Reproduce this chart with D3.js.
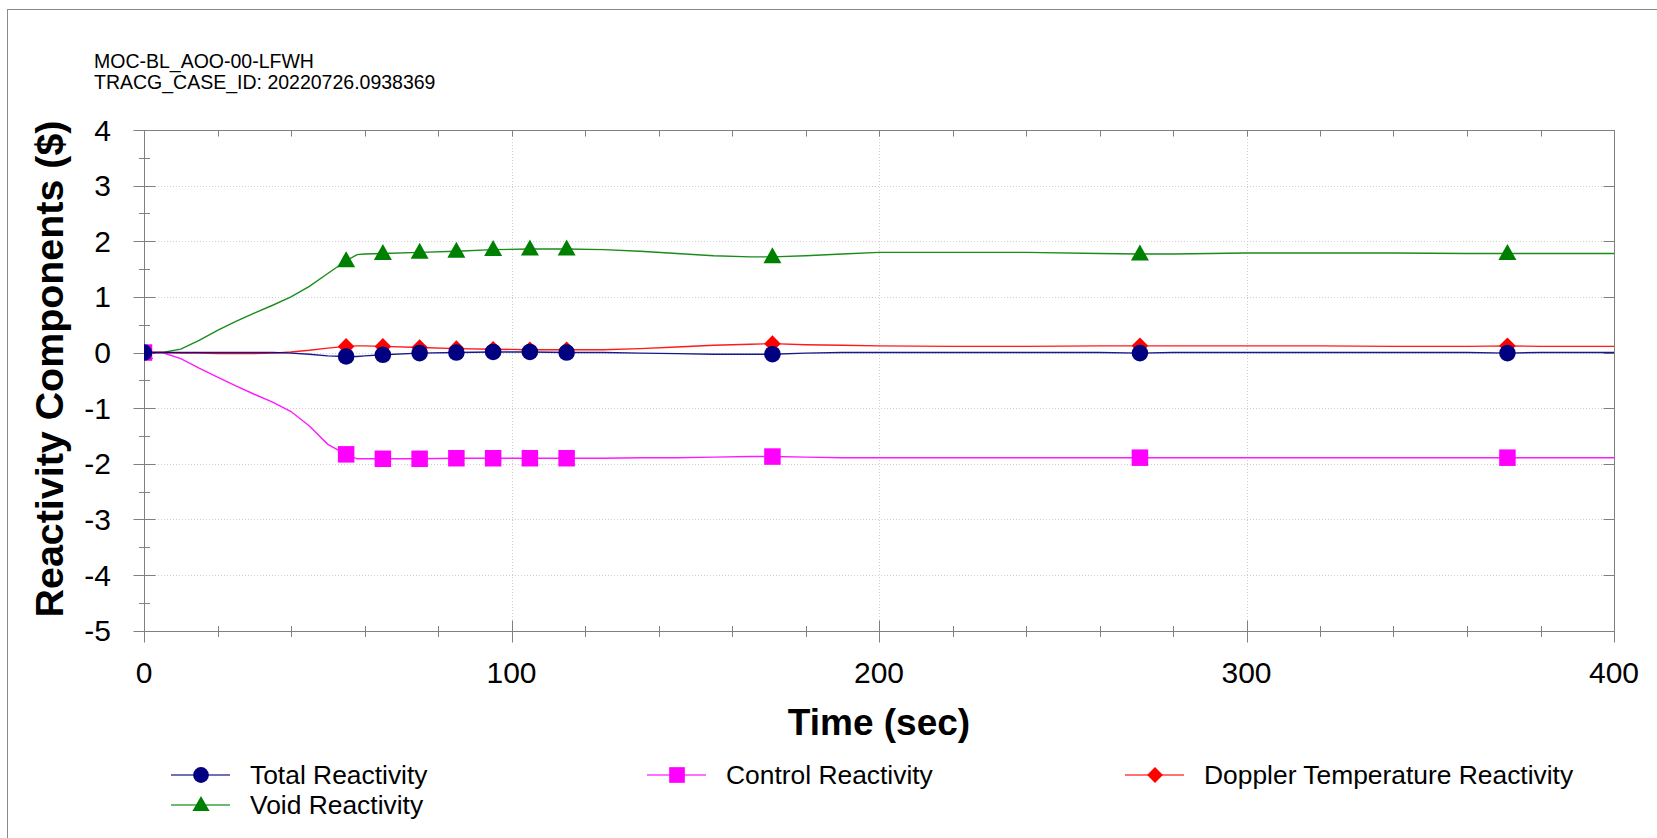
<!DOCTYPE html>
<html>
<head>
<meta charset="utf-8">
<script src="https://cdn.jsdelivr.net/npm/d3@7"></script>
<style>
  html, body { margin: 0; padding: 0; background: #fff; }
  svg { display: block; font-family: "Liberation Sans", Arial, sans-serif; }
</style>
</head>
<body>
<svg id="chart" width="1657" height="838"></svg>
<script>
// Reactivity components over the transient (sampled times, seconds)
const timeSec = [0, 5, 10, 15, 20, 25, 30, 35, 40, 45, 50, 55, 58, 60, 65, 75, 85, 95, 105, 115,
  125, 135, 145, 155, 165, 171, 180, 190, 200, 220, 240, 260, 271, 280, 300, 320, 340, 360, 371, 380, 400];

const totalReactivity = [0, 0, 0, 0, 0, 0, 0, 0, -0.01, -0.03, -0.06, -0.07, -0.07, -0.06, -0.04, -0.01, 0.0, 0.01, 0.01, 0.0,
  0.0, -0.01, -0.02, -0.03, -0.03, -0.03, -0.01, 0.0, 0.0, 0.0, 0.0, 0.0, -0.01, 0.0, 0.0, 0.0, 0.0, 0.0, -0.01, 0.0, 0.0];

const controlReactivity = [0, 0, -0.11, -0.28, -0.44, -0.60, -0.75, -0.89, -1.06, -1.32, -1.65, -1.83, -1.91, -1.91, -1.91, -1.91, -1.90, -1.90, -1.90, -1.90,
  -1.90, -1.89, -1.89, -1.88, -1.87, -1.87, -1.88, -1.89, -1.89, -1.89, -1.89, -1.89, -1.89, -1.89, -1.89, -1.89, -1.89, -1.89, -1.89, -1.89, -1.89];

const dopplerReactivity = [0, 0, -0.01, -0.01, -0.02, -0.02, -0.02, -0.01, 0.01, 0.04, 0.08, 0.11, 0.12, 0.12, 0.11, 0.09, 0.07, 0.06, 0.05, 0.05,
  0.05, 0.07, 0.10, 0.13, 0.15, 0.16, 0.14, 0.13, 0.12, 0.11, 0.11, 0.12, 0.12, 0.12, 0.12, 0.12, 0.11, 0.11, 0.12, 0.11, 0.11];

const voidReactivity = [0, 0, 0.06, 0.22, 0.40, 0.56, 0.71, 0.85, 1.00, 1.19, 1.42, 1.65, 1.76, 1.77, 1.78, 1.80, 1.82, 1.85, 1.86, 1.86,
  1.85, 1.82, 1.78, 1.74, 1.72, 1.72, 1.74, 1.77, 1.80, 1.80, 1.80, 1.78, 1.77, 1.77, 1.79, 1.79, 1.79, 1.78, 1.78, 1.78, 1.78];

// Times at which symbols are placed on each curve
const markerTimes = [0, 55, 65, 75, 85, 95, 105, 115, 171, 271, 371];

const xTickValues = [0, 100, 200, 300, 400];
const yTickValues = [4, 3, 2, 1, 0, -1, -2, -3, -4, -5];

const titleLines = ["MOC-BL_AOO-00-LFWH", "TRACG_CASE_ID: 20220726.0938369"];

const seriesNames = ["Total Reactivity", "Control Reactivity", "Doppler Temperature Reactivity", "Void Reactivity"];
const seriesColors = ["#000080", "#ff00ff", "#ff0000", "#008000"];
const seriesShapes = ["circle", "square", "diamond", "triangle"];
const seriesValues = [totalReactivity, controlReactivity, dopplerReactivity, voidReactivity];

const series = seriesNames.map((name, i) => ({
  name, color: seriesColors[i], shape: seriesShapes[i],
  points: timeSec.map((t, j) => ({ t, v: seriesValues[i][j] }))
}));

const svg = d3.select("#chart");
const plot = { left: 144, right: 1614, top: 130, bottom: 630.7 };

const x = d3.scaleLinear().domain([0, 400]).range([plot.left, plot.right]);
const y = d3.scaleLinear().domain([-5, 4]).range([plot.bottom, plot.top]);

const axisColor = "#808080";

// outer frame
svg.append("rect")
  .attr("x", 7.5).attr("y", 9.5).attr("width", 2000).attr("height", 2000)
  .attr("fill", "none").attr("stroke", "#8a8a8a").attr("stroke-width", 1);

// title block
svg.append("g").selectAll("text").data(titleLines).join("text")
  .attr("x", 94).attr("y", (d, i) => 68 + i * 21)
  .attr("font-size", 19.5).attr("fill", "#000").text(d => d);

// symbol generator
function symbolPath(shape, scale) {
  const s = scale || 1;
  if (shape === "circle") return d3.symbol(d3.symbolCircle, Math.PI * 8.3 * 8.3 * s * s)();
  if (shape === "square") return d3.symbol(d3.symbolSquare, 16.5 * 16.5 * s * s)();
  if (shape === "triangle") {
    const h = 16 * s, w = 18 * s;
    return `M0,${-h * 0.6}L${w / 2},${h * 0.4}L${-w / 2},${h * 0.4}Z`;
  }
  // diamond
  const a = 8.3 * s, b = 8.3 * s;
  return `M0,${-b}L${a},0L0,${b}L${-a},0Z`;
}

// gridlines
const grid = svg.append("g").attr("stroke", "#cfcfcf").attr("stroke-width", 1).attr("stroke-dasharray", "1,2");
grid.selectAll("line.h").data(d3.range(-4, 4)).join("line")
  .attr("class", "h")
  .attr("x1", plot.left + 11).attr("x2", plot.right - 11)
  .attr("y1", d => Math.round(y(d)) + 0.5).attr("y2", d => Math.round(y(d)) + 0.5);
grid.selectAll("line.v").data([100, 200, 300]).join("line")
  .attr("class", "v")
  .attr("y1", plot.top + 6).attr("y2", plot.bottom - 11)
  .attr("x1", d => Math.round(x(d)) + 0.5).attr("x2", d => Math.round(x(d)) + 0.5);

// axes
const px = v => Math.round(v) + 0.5;
const axes = svg.append("g").attr("stroke", axisColor).attr("stroke-width", 1).attr("fill", "none");
axes.append("rect")
  .attr("x", px(plot.left)).attr("y", px(plot.top))
  .attr("width", Math.round(plot.right) - Math.round(plot.left))
  .attr("height", Math.round(plot.bottom) - Math.round(plot.top));

// left axis ticks: major each unit crossing the axis, minor each half unit
d3.range(-5, 4.01, 0.5).forEach(v => {
  const major = Math.abs(v - Math.round(v)) < 1e-6;
  const len = major ? 11 : 5.5;
  axes.append("line").attr("x1", px(plot.left) - len).attr("x2", px(plot.left) + len)
    .attr("y1", px(y(v))).attr("y2", px(y(v)));
  if (major) {
    axes.append("line").attr("x1", px(plot.right) - 11).attr("x2", px(plot.right))
      .attr("y1", px(y(v))).attr("y2", px(y(v)));
  }
});
// bottom and top axis ticks
d3.range(0, 401, 20).forEach(t => {
  const major = t % 100 === 0;
  const len = major ? 11 : 5.5;
  axes.append("line").attr("x1", px(x(t))).attr("x2", px(x(t)))
    .attr("y1", px(plot.bottom) - len).attr("y2", px(plot.bottom) + len);
  axes.append("line").attr("x1", px(x(t))).attr("x2", px(x(t)))
    .attr("y1", px(plot.top)).attr("y2", px(plot.top) + 6);
});

// tick labels
svg.append("g").selectAll("text").data(yTickValues).join("text")
  .attr("x", 111).attr("y", d => y(d)).attr("dy", "0.35em")
  .attr("text-anchor", "end").attr("font-size", 30).attr("fill", "#000")
  .text(d => d);
svg.append("g").selectAll("text").data(xTickValues).join("text")
  .attr("x", d => x(d)).attr("y", 683)
  .attr("text-anchor", "middle").attr("font-size", 30).attr("fill", "#000")
  .text(d => d);

// axis titles
svg.append("text").attr("x", x(200)).attr("y", 735)
  .attr("text-anchor", "middle").attr("font-size", 37).attr("font-weight", "bold")
  .text("Time (sec)");
svg.append("text").attr("transform", "translate(62.5,369) rotate(-90)")
  .attr("text-anchor", "middle").attr("font-size", 39.4).attr("font-weight", "bold")
  .text("Reactivity Components ($)");

// data layers clipped to the plot box
svg.append("clipPath").attr("id", "plotClip").append("rect")
  .attr("x", plot.left).attr("y", plot.top)
  .attr("width", plot.right - plot.left).attr("height", plot.bottom - plot.top);

const dataLayer = svg.append("g").attr("clip-path", "url(#plotClip)");
const line = d3.line().x(d => x(d.t)).y(d => y(d.v));

// draw order: void, control, doppler, total (total on top)
const drawOrder = [3, 1, 2, 0];
drawOrder.forEach(i => {
  const s = series[i];
  dataLayer.append("path").datum(s.points)
    .attr("fill", "none").attr("stroke", s.color).attr("stroke-width", 1.4)
    .attr("stroke-opacity", 0.9)
    .attr("d", line);
});
drawOrder.forEach(i => {
  const s = series[i];
  const pts = s.points.filter(p => markerTimes.includes(p.t));
  dataLayer.append("g").selectAll("path").data(pts).join("path")
    .attr("transform", d => `translate(${x(d.t)},${y(d.v)})`)
    .attr("d", symbolPath(s.shape))
    .attr("fill", s.color);
});

// legend
const legendPos = [
  { x: 171, y: 775 }, { x: 647, y: 775 }, { x: 1125, y: 775 }, { x: 171, y: 805 }
];
const legend = svg.append("g");
series.forEach((s, i) => {
  const p = legendPos[i];
  const g = legend.append("g").attr("transform", `translate(${p.x},${p.y})`);
  g.append("line").attr("x1", 0).attr("x2", 59).attr("y1", 0).attr("y2", 0)
    .attr("stroke", s.color).attr("stroke-width", 1.4).attr("stroke-opacity", 0.75);
  g.append("path").attr("transform", "translate(30,0)")
    .attr("d", symbolPath(s.shape, 0.95)).attr("fill", s.color);
  g.append("text").attr("x", 79).attr("y", 0).attr("dy", "0.35em")
    .attr("font-size", 26.4).attr("fill", "#000").text(s.name);
});
</script>
</body>
</html>
